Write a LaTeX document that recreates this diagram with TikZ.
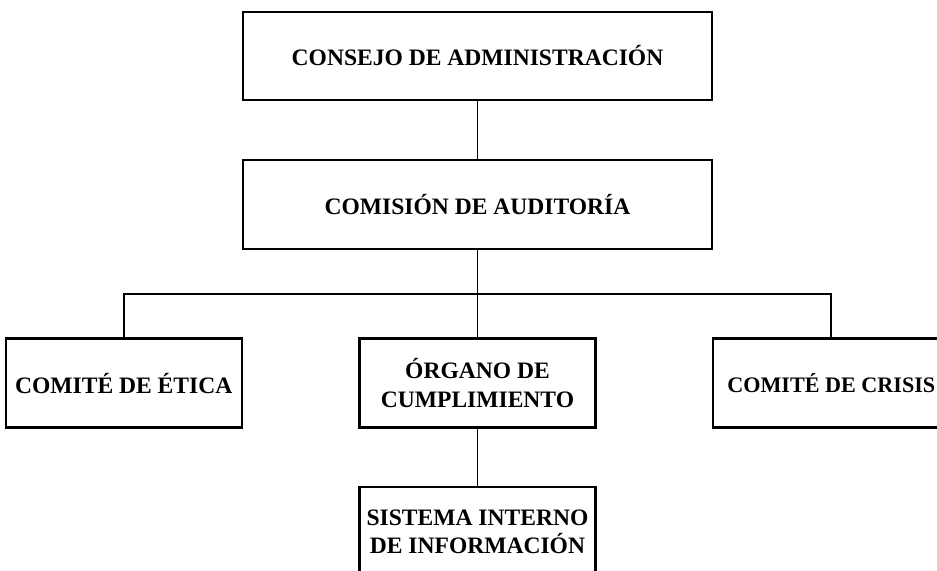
\documentclass[tikz,border=0pt]{standalone}
\usepackage{fontspec}
\setmainfont{Liberation Serif}
\usetikzlibrary{positioning}
\tikzset{
    caja/.style={
        draw,
        line width=1.3pt,
        minimum width=4.72cm,
        minimum height=1.78cm,
        align=center,
        font=\fontsize{13.4}{16}\selectfont\bfseries
    },
    linea/.style={line width=1.1pt}
}
\begin{document}
\begin{tikzpicture}
    \useasboundingbox (0,0) rectangle (18.74,11.4);
    \clip (0,0) rectangle (18.74,11.4);
    \node[caja, minimum width=9.38cm, minimum height=1.76cm] (consejo) at (9.55,10.28) {CONSEJO DE ADMINISTRACIÓN};
    \node[caja, minimum width=9.38cm, below=1.15cm of consejo] (comision) {COMISIÓN DE AUDITORÍA};
    \node[caja, below=1.75cm of comision] (organo) {ÓRGANO DE\\CUMPLIMIENTO};
    \node[caja, left=2.31cm of organo] (etica) {COMITÉ DE ÉTICA};
    \node[caja, right=2.31cm of organo, font=\fontsize{12.6}{16}\selectfont\bfseries] (crisis) {COMITÉ DE CRISIS};
    \node[caja, below=1.15cm of organo] (sistema) {SISTEMA INTERNO\\DE INFORMACIÓN};
    \coordinate[below=0.88cm of comision.south] (bus);
    \draw[linea] (consejo) -- (comision);
    \draw[linea] (comision) -- (organo);
    \draw[linea] (etica.north) |- (bus) -| (crisis.north);
    \draw[linea] (organo) -- (sistema);
\end{tikzpicture}
\end{document}
